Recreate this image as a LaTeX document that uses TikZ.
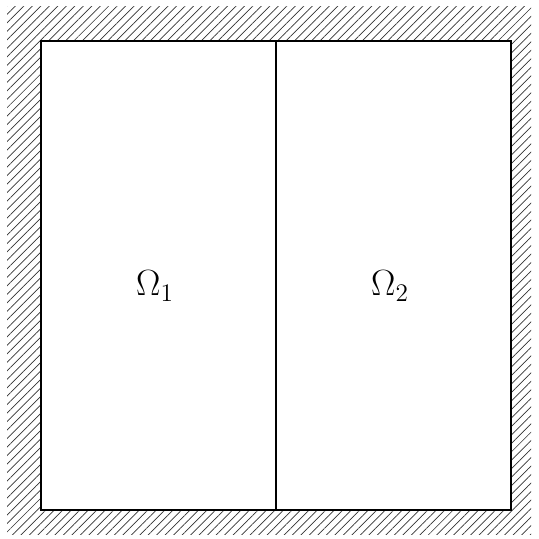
\documentclass[tikz,border=0pt]{standalone}
\usepackage{amsmath,amssymb}
\usetikzlibrary{patterns.meta}

\begin{document}
\begin{tikzpicture}[
		wall/.style={pattern={Lines[angle=45,distance=0.12cm,line width=0.4pt]},pattern color=black!80},
		edge/.style={line width=1.3pt},
		label/.style={font=\fontsize{21}{25}\selectfont}]
			\useasboundingbox (0,0) rectangle (10.76,10.78);
			% wall
			\fill[wall] (0.14,0.08) rectangle (10.62,10.64);
			% domains
			\draw[edge,fill=white] (0.82,0.58) rectangle (10.22,9.96);
			\coordinate (top) at (5.52,9.96);
			\coordinate (bot) at (5.52,0.58);
			\draw[edge] (bot) -- (top);
			\node[label] (om1) at (3.1,5.06) {$\Omega_1$};
			\node[label] (om2) at (7.8,5.06) {$\Omega_2$};
		\end{tikzpicture}
\end{document}
